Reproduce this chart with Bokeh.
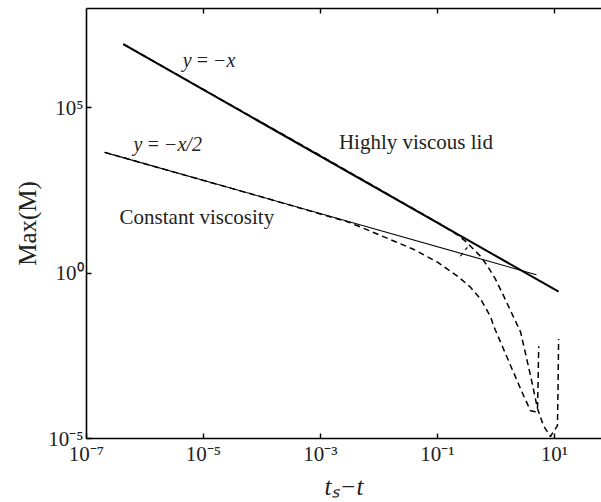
from bokeh.plotting import figure
from bokeh.models import Range1d, FixedTicker, LogAxis, Label
from bokeh.embed import file_html
from bokeh.resources import INLINE

# ---- data (log10 coordinates read as decades) ----
# reference power laws, given by their end points
slope1_logx = [-6.37, 1.07]          # y = -x  (Highly viscous lid)
slope1_logy = [6.92, -0.56]
slope2_logx = [-6.69, 0.69]          # y = -x/2 (Constant viscosity)
slope2_logy = [3.65, -0.05]

# constant-viscosity simulation, Max(M) against t_s - t
const_logx = [-6.69, -4.0, -2.5, -1.41, -1.0, -0.66, -0.44, -0.265, -0.09,
              -0.04, 0.25, 0.47, 0.59, 0.675, 0.71, 0.72, 0.73]
const_logy = [3.65, 2.30, 1.53, 0.72, 0.33, -0.09, -0.42, -0.78, -1.33,
              -1.60, -2.80, -3.70, -4.16, -4.19, -4.05, -3.2, -2.21]

# highly-viscous-lid simulation
lid_logx = [-6.37, -3.0, -1.0, -0.66, -0.52, -0.265, -0.145, -0.01, 0.13,
            0.30, 0.42, 0.59, 0.71, 0.81, 0.93, 1.05, 1.06, 1.07]
lid_logy = [6.92, 3.55, 1.53, 1.16, 0.96, 0.51, 0.21, -0.18, -0.69,
            -1.33, -1.78, -3.10, -4.10, -4.61, -4.94, -4.61, -3.5, -1.99]

# short fragment of a further run
frag_logx = [-0.61, -0.49]
frag_logy = [0.51, 0.78]

x_ticks = [-7, -5, -3, -1, 1]
y_ticks = [-5, 0, 5]
top_ticks = [-5, -3, -1, 1]

x_title = "tₛ−t"
y_title = "Max(M)"

SUP = str.maketrans("-0123456789", "⁻⁰¹²³⁴⁵⁶⁷⁸⁹")


def lab(e):
    return "10" + str(e).translate(SUP)


def pw(v):
    return [10.0 ** t for t in v]


FONT = "Liberation Serif"
INK = "#222222"

p = figure(width=601, height=502, x_axis_type="log", y_axis_type="log",
           x_range=Range1d(1e-7, 10 ** 1.803), y_range=Range1d(1e-5, 1e8),
           output_backend="svg", toolbar_location=None,
           min_border_left=86, min_border_right=0,
           min_border_top=8, min_border_bottom=62)
p.outline_line_color = None
p.xgrid.visible = False
p.ygrid.visible = False
p.background_fill_color = "white"
p.border_fill_color = "white"

for ax, ticks in ((p.xaxis[0], x_ticks), (p.yaxis[0], y_ticks)):
    ax.ticker = FixedTicker(ticks=[10.0 ** t for t in ticks])
    ax.major_label_overrides = {10.0 ** t: lab(t) for t in ticks}
    ax.major_tick_in = 5
    ax.major_tick_out = 0
    ax.minor_tick_line_color = None
    ax.axis_line_width = 1.6
    ax.major_tick_line_width = 1.4
    ax.axis_line_color = "black"
    ax.major_tick_line_color = "black"
    ax.major_label_text_font = FONT
    ax.major_label_text_font_size = "21px"
    ax.major_label_text_color = INK
    ax.axis_label_text_font = FONT
    ax.axis_label_text_font_size = "25px"
    ax.axis_label_text_color = INK

p.xaxis[0].major_label_standoff = 3
p.yaxis[0].major_label_standoff = 3
p.xaxis[0].axis_label = x_title
p.xaxis[0].axis_label_text_font_style = "italic"
p.xaxis[0].axis_label_standoff = 4
p.yaxis[0].axis_label = y_title
p.yaxis[0].axis_label_text_font_style = "normal"
p.yaxis[0].axis_label_standoff = 4

top = LogAxis(ticker=FixedTicker(ticks=[10.0 ** t for t in top_ticks]),
              major_tick_in=5, major_tick_out=0,
              minor_tick_line_color=None, axis_line_width=1.6,
              major_tick_line_width=1.4,
              major_label_overrides={10.0 ** t: " " for t in top_ticks},
              major_label_text_font_size="2px", major_label_standoff=0)
p.add_layout(top, "above")

# power-law guides
p.line(pw(slope1_logx), pw(slope1_logy), line_color="black", line_width=2)
p.line(pw(slope2_logx), pw(slope2_logy), line_color="black", line_width=1.1)

# simulations
p.line(pw(const_logx), pw(const_logy), line_color="black", line_width=1.5,
       line_dash="6 4")
p.line(pw(lid_logx), pw(lid_logy), line_color="black", line_width=1.5,
       line_dash="6 4")
p.line(pw(frag_logx), pw(frag_logy), line_color="black", line_width=1.2,
       line_dash="4 4")


def put(text, lx, ly, size="21px", style="normal"):
    p.add_layout(Label(x=10 ** lx, y=10 ** ly, text=text, text_font=FONT,
                       text_font_size=size, text_font_style=style,
                       text_color=INK, text_align="left",
                       text_baseline="middle"))


TS = "\u2009"
put(f"y{TS}={TS}−x", -5.356, 6.446, size="20px", style="italic")
put(f"y{TS}={TS}−x/2", -6.195, 3.916, size="20px", style="italic")
put("Highly viscous lid", -2.685, 3.976)
put("Constant viscosity", -6.435, 1.687)

open("out.html", "w").write(file_html(p, INLINE))
